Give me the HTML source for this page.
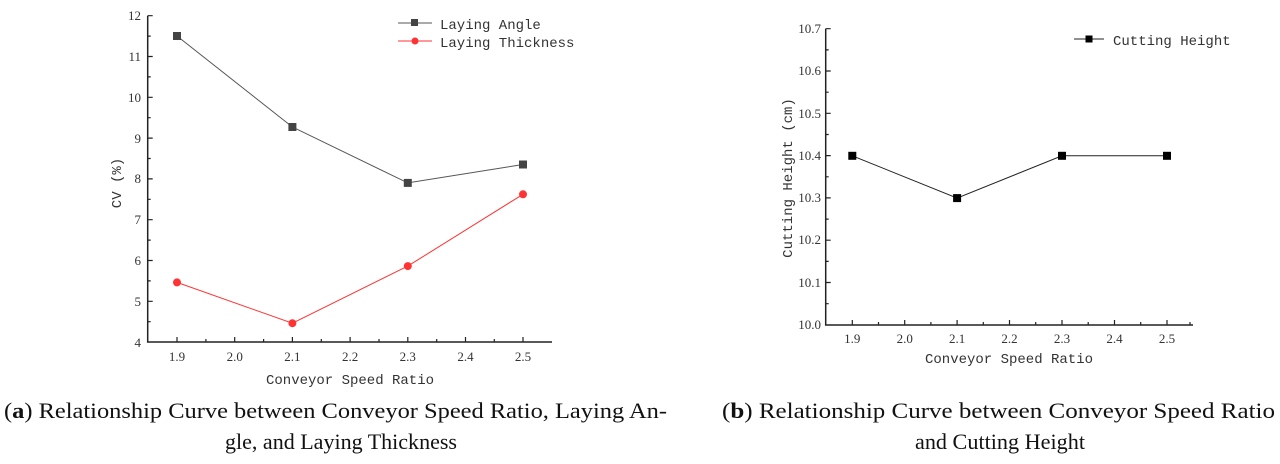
<!DOCTYPE html>
<html><head><style>html,body{margin:0;padding:0;background:#fff;}svg{display:block}</style></head><body>
<svg width="1280" height="464" xmlns="http://www.w3.org/2000/svg" font-family="Liberation Serif, serif">
<g stroke="#222" stroke-width="1.5" fill="none">
<path d="M147.7,15.7 V342 H552"/>
<path d="M825.7,28.7 V325 H1193"/>
</g>
<g stroke="#222" stroke-width="1.2">
<!-- left y ticks -->
<path d="M147.7,15.7h5M147.7,56.5h5M147.7,97.3h5M147.7,138.1h5M147.7,178.9h5M147.7,219.7h5M147.7,260.5h5M147.7,301.3h5"/>
<path d="M147.7,36.1h3M147.7,76.9h3M147.7,117.7h3M147.7,158.5h3M147.7,199.3h3M147.7,240.1h3M147.7,280.9h3M147.7,321.7h3"/>
<path d="M177,342v-5M234.7,342v-5M292.4,342v-5M350.1,342v-5M407.8,342v-5M465.5,342v-5M523,342v-5"/>
<path d="M205.9,342v-3M263.6,342v-3M321.3,342v-3M379,342v-3M436.7,342v-3M494.3,342v-3"/>
<!-- right -->
<path d="M825.7,28.7h5M825.7,71h5M825.7,113.3h5M825.7,155.6h5M825.7,197.9h5M825.7,240.2h5M825.7,282.5h5"/>
<path d="M825.7,49.9h3M825.7,92.2h3M825.7,134.5h3M825.7,176.8h3M825.7,219.1h3M825.7,261.4h3M825.7,303.7h3"/>
<path d="M852.3,325v-5M904.7,325v-5M957.1,325v-5M1009.5,325v-5M1062,325v-5M1114.5,325v-5M1167,325v-5"/>
<path d="M878.5,325v-3M930.9,325v-3M983.3,325v-3M1035.7,325v-3M1088.2,325v-3M1140.7,325v-3M1190,325v-3"/>
</g>
<g font-size="13" fill="#333" text-anchor="end">
<text x="141" y="20">12</text><text x="141" y="61">11</text><text x="141" y="102">10</text><text x="141" y="143">9</text><text x="141" y="183">8</text><text x="141" y="224">7</text><text x="141" y="265">6</text><text x="141" y="306">5</text><text x="141" y="347">4</text>
<text x="821" y="33">10.7</text><text x="821" y="75">10.6</text><text x="821" y="118">10.5</text><text x="821" y="160">10.4</text><text x="821" y="202">10.3</text><text x="821" y="244">10.2</text><text x="821" y="287">10.1</text><text x="821" y="329">10.0</text>
</g>
<g font-size="13" fill="#333" text-anchor="middle">
<text x="177" y="361">1.9</text><text x="234.7" y="361">2.0</text><text x="292.4" y="361">2.1</text><text x="350.1" y="361">2.2</text><text x="407.8" y="361">2.3</text><text x="465.5" y="361">2.4</text><text x="523" y="361">2.5</text>
<text x="852.3" y="343">1.9</text><text x="904.7" y="343">2.0</text><text x="957.1" y="343">2.1</text><text x="1009.5" y="343">2.2</text><text x="1062" y="343">2.3</text><text x="1114.5" y="343">2.4</text><text x="1167" y="343">2.5</text>
</g>
<g font-family="Liberation Mono, monospace" font-size="14" fill="#333" text-anchor="middle">
<text x="350" y="384">Conveyor Speed Ratio</text>
<text x="1009" y="363">Conveyor Speed Ratio</text>
<text transform="translate(121,183) rotate(-90)">CV (%)</text>
<text transform="translate(792,178) rotate(-90)">Cutting Height (cm)</text>
</g>
<g font-family="Liberation Mono, monospace" font-size="14" fill="#333">
<text x="440" y="29">Laying Angle</text>
<text x="440" y="47">Laying Thickness</text>
<text x="1113" y="45">Cutting Height</text>
</g>
<polyline points="177,36 292.4,127 407.8,182.9 523,164.5" fill="none" stroke="#555" stroke-width="1"/>
<polyline points="177,282.4 292.4,323.2 407.8,266.1 523,194.3" fill="none" stroke="#f33" stroke-width="1"/>
<polyline points="852.3,155.8 957.1,198.1 1062,155.8 1167,155.8" fill="none" stroke="#222" stroke-width="1"/>
<g fill="#444">
<rect x="173" y="32" width="8" height="8"/><rect x="288.4" y="123" width="8" height="8"/><rect x="403.8" y="178.9" width="8" height="8"/><rect x="519" y="160.5" width="8" height="8"/>
</g>
<g fill="#f33">
<circle cx="177" cy="282.4" r="4"/><circle cx="292.4" cy="323.2" r="4"/><circle cx="407.8" cy="266.1" r="4"/><circle cx="523" cy="194.3" r="4"/>
</g>
<g fill="#000">
<rect x="848.3" y="151.8" width="8" height="8"/><rect x="953.1" y="194.1" width="8" height="8"/><rect x="1058" y="151.8" width="8" height="8"/><rect x="1163" y="151.8" width="8" height="8"/>
</g>
<line x1="398" y1="23" x2="432" y2="23" stroke="#555"/><rect x="411" y="19" width="7" height="7" fill="#444"/>
<line x1="398" y1="41" x2="432" y2="41" stroke="#f33"/><circle cx="415" cy="41" r="3.5" fill="#f33"/>
<line x1="1074" y1="39" x2="1104" y2="39" stroke="#222"/><rect x="1085.5" y="35.5" width="7" height="7" fill="#000"/>
<g font-size="22" fill="#111">
<text x="4" y="418" textLength="663" lengthAdjust="spacingAndGlyphs">(<tspan font-weight="bold">a</tspan>) Relationship Curve between Conveyor Speed Ratio, Laying An-</text>
<text x="225" y="449" textLength="232" lengthAdjust="spacingAndGlyphs">gle, and Laying Thickness</text>
<text x="722" y="418" textLength="553" lengthAdjust="spacingAndGlyphs">(<tspan font-weight="bold">b</tspan>) Relationship Curve between Conveyor Speed Ratio</text>
<text x="915" y="449" textLength="170" lengthAdjust="spacingAndGlyphs">and Cutting Height</text>
</g>
</svg>
</body></html>
